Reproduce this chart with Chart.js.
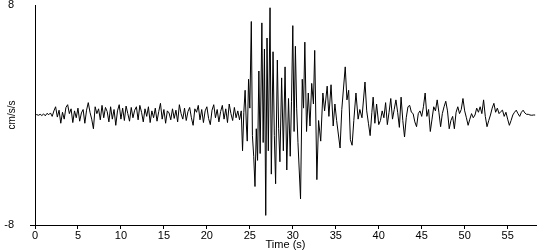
<!DOCTYPE html>
<html>
<head>
<meta charset="utf-8">
<script src="https://cdn.jsdelivr.net/npm/chart.js@4/dist/chart.umd.min.js"></script>
<style>
  html, body { margin: 0; padding: 0; background: #fff; }
  #wrap { width: 550px; height: 250px; }
</style>
</head>
<body>
<div id="wrap"><canvas id="accel-chart"></canvas></div>
<script>
// accelerogram, values in cm/s/s
const sampleStep = 0.2;

// 0.0 .. 23.8 s, every 0.2 s
const preEventAccel = [
  0, 0.03, -0.02, 0.05, -0.04, 0.08, -0.06, 0.12, 0.02, 0.15,
  -0.1, 0.3, 0.6, -0.15, 0.35, -0.6, 0.2, -0.3, 0.55, 0.75,
  0.1, 0.45, -0.55, 0.3, -0.2, 0.5, -0.45, 0.15, 0.4, -0.6,
  0.35, 0.9, 0.2, -0.3, -1.0, 0.6, 0.1, 0.45, -0.35, 0.7,
  -0.2, 0.55, 0.25, -0.5, 0.6, -0.3, 0.4, -0.75, 0.3, 0.75,
  -0.3, 0.5, -0.4, 0.65, 0.1, -0.45, 0.55, -0.2, 0.35, 0.6,
  -0.35, 0.7, 0.2, -0.5, 0.45, -0.1, 0.6, -0.55, 0.3, -0.2,
  0.5, -0.45, 0.25, 0.85, -0.3, 0.4, -0.6, 0.3, 0.15, -0.35,
  0.45, -0.25, 0.35, -0.5, 0.75, 0.1, -0.3, 0.5, -0.4, 0.25,
  0.55, -0.2, -0.75, 0.45, 0.2, 0.7, -0.35, 0.4, -0.55, 0.3,
  0.6, -0.25, -0.7, 0.35, 0.75, -0.2, 0.4, -0.5, 0.25, 0.7,
  -0.3, 0.45, -0.55, 0.8, 0.1, -0.4, 0.55, -0.2, 0.3, -0.35
];

// strong motion, peaks and troughs
const strongTimes = [
  24.0, 24.15, 24.3, 24.45, 24.6, 24.7, 24.85, 25.0, 25.17, 25.3,
  25.45, 25.6, 25.75, 25.9, 26.05, 26.2, 26.4, 26.55, 26.7, 26.85,
  27.0, 27.15, 27.35, 27.5, 27.7, 27.85, 28.0, 28.2, 28.35, 28.5,
  28.7, 28.9, 29.1, 29.3, 29.5, 29.7, 29.85, 30.0, 30.15, 30.3,
  30.45, 30.6, 30.9, 31.1, 31.25, 31.4, 31.6, 31.8, 32.0, 32.2,
  32.4, 32.55, 32.8, 33.0, 33.25, 33.5, 33.7, 34.0, 34.2, 34.45,
  34.7, 34.9, 35.1, 35.5, 35.7, 36.1, 36.3, 36.5, 36.7, 36.9,
  37.1, 37.35, 37.6, 37.8, 38.05, 38.4, 38.6, 38.8, 39.0, 39.2,
  39.35, 39.55, 39.75, 40.0
];
const strongAccel = [
  0.3, -2.6, 0.2, 1.8, -0.8, -1.9, 2.6, 0.5, 6.8, -1.5,
  -3.0, -5.2, -1.0, -3.3, 3.2, -2.8, 6.7, -2.0, 4.8, -7.3,
  5.6, -2.6, 7.8, -4.3, 4.6, -1.5, -5.0, 4.0, -1.0, -3.4,
  2.7, -2.6, 3.5, -4.0, 1.2, -3.0, 1.0, 6.5, -1.2, 5.0,
  0.5, -2.0, -6.1, 2.6, 0.5, 5.3, -1.2, 1.6, -0.8, 2.3,
  0.8, 4.7, -4.7, -0.4, -1.9, 1.6, 0.3, 2.1, -0.1, 2.2,
  -0.8, 0.8, -0.4, -2.4, 0.4, 3.5, 1.1, 1.8, -1.8, -2.2,
  -0.4, 1.6, -0.3, 0.4, -0.2, 2.4, 0.3, -0.6, -1.5, 0.2,
  1.3, -0.6, 0.8, -0.7
];

// 40.2 .. 58.2 s, every 0.2 s
const codaStart = 40.2;
const codaAccel = [
  -0.4, 0.3, -0.2, 0.9, -0.7, 0.2, 1.2, -0.3, 0.4, 1.1,
  0.2, -0.9, 1.3, -0.4, -1.6, -0.2, 0.6, 0.7, 0.2, 0.1,
  -0.5, -0.85, 0.1, 0.3, -0.1, 0.6, 1.6, -0.1, 0.4, -1.2,
  -0.3, 0.6, 0.3, 1.1, 0.2, -0.85, 0.1, 0.6, 1.0, 0.3,
  -1.0, -0.4, -0.1, -1.0, 0.2, 0.6, 0.1, 0.4, 1.2, 0.3,
  -0.2, -0.75, -0.3, 0.1, -0.2, 0.0, 0.5, 0.2, 0.6, 0.1,
  1.1, -0.1, -0.85, -0.4, 0.0, 0.5, 0.85, 0.2, 0.5, 0.1,
  0.25, 0.35, -0.1, 0.2, -0.3, -0.75, -0.4, 0.0, 0.2, 0.35,
  0.1, -0.1, 0.2, 0.35, 0.15, 0.05, 0.05, 0.0, -0.02, 0.0, 0.0
];

const xTickStep = 5;
const yLimit = 8;
const yTickValues = [-8, 8];
const xMax = 58.3;

function buildPoints() {
  const pts = [];
  preEventAccel.forEach((v, i) => pts.push({ x: +(i * sampleStep).toFixed(2), y: v }));
  strongTimes.forEach((t, i) => pts.push({ x: t, y: strongAccel[i] }));
  codaAccel.forEach((v, i) => pts.push({ x: +(codaStart + i * sampleStep).toFixed(2), y: v }));
  return pts;
}

// x axis line pokes out a few px left of the y axis
const axisStub = {
  id: 'axisStub',
  afterDraw(chart) {
    const { ctx, chartArea } = chart;
    const y = Math.round(chartArea.bottom) + 0.5;
    ctx.save();
    ctx.strokeStyle = '#000';
    ctx.lineWidth = 1;
    ctx.beginPath();
    ctx.moveTo(chartArea.left - 5, y);
    ctx.lineTo(chartArea.left, y);
    ctx.stroke();
    ctx.restore();
  }
};

const font = { family: 'Arial, "Liberation Sans", sans-serif', size: 11 };

new Chart(document.getElementById('accel-chart'), {
  type: 'line',
  data: {
    datasets: [{
      data: buildPoints(),
      borderColor: '#000',
      borderWidth: 1,
      pointRadius: 0,
      tension: 0,
      fill: false
    }]
  },
  options: {
    responsive: true,
    maintainAspectRatio: false,
    animation: false,
    events: [],
    layout: { padding: { top: 5, right: 14, bottom: 0, left: 0 } },
    plugins: { legend: { display: false }, tooltip: { enabled: false } },
    scales: {
      x: {
        type: 'linear',
        min: 0,
        max: xMax,
        afterFit: s => { s.height = 25; },
        border: { display: true, color: '#000', width: 1 },
        grid: { display: true, drawOnChartArea: false, drawTicks: true, tickLength: 4, color: '#000' },
        ticks: { stepSize: xTickStep, includeBounds: false, color: '#000', font, padding: 0, maxRotation: 0 },
        title: { display: true, text: 'Time (s)', color: '#000', font, padding: { top: 0, bottom: -2 } }
      },
      y: {
        min: -yLimit,
        max: yLimit,
        afterBuildTicks: s => { s.ticks = yTickValues.map(v => ({ value: v })); },
        // keep the label gap horizontal only
        afterFit: s => { s.width = 35; s.paddingTop = 0; s.paddingBottom = 0; },
        border: { display: true, color: '#000', width: 1 },
        grid: { display: false, drawTicks: false },
        ticks: { color: '#000', font, padding: 21, crossAlign: 'near' },
        title: { display: true, text: 'cm/s/s', color: '#000', font: { ...font, size: 10 }, padding: { top: 6, bottom: 0 } }
      }
    }
  },
  plugins: [axisStub]
});
</script>
</body>
</html>
